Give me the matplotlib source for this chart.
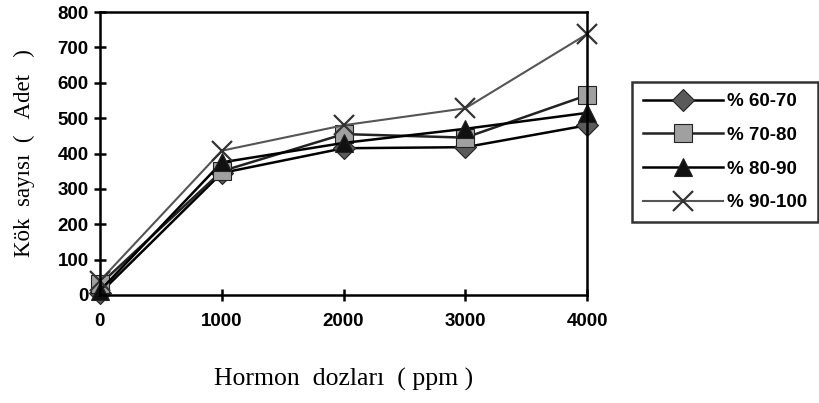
import matplotlib.pyplot as plt
import numpy as np

doses = [0, 1000, 2000, 3000, 4000]
labels = ['% 60-70', '% 70-80', '% 80-90', '% 90-100']
s60_70 = [5, 345, 415, 418, 480]
s70_80 = [30, 350, 455, 445, 565]
s80_90 = [12, 375, 430, 470, 515]
s90_100 = [40, 408, 480, 528, 738]

series = [s60_70, s70_80, s80_90, s90_100]
markers = ['D', 's', '^', 'x']
mfcs = ['#5a5a5a', '#a0a0a0', '#111111', '#777777']
msizes = [11, 13, 13, 15]
lcols = ['black', '#222222', 'black', '#555555']

fig = plt.figure(figsize=(8.19, 4.03), dpi=100)
ax = fig.add_axes([0.122, 0.268, 0.595, 0.702])

for vals, lab, m, fc, ms, lc in zip(series, labels, markers, mfcs, msizes, lcols):
    if m == 'x':
        ax.plot(doses, vals, color=lc, lw=1.5, marker=m, ms=ms, mew=1.6,
                mec='#333333', label=lab, clip_on=False)
    else:
        ax.plot(doses, vals, color=lc, lw=1.8, marker=m, ms=ms, mfc=fc,
                mec='#222222', mew=0.8, label=lab, clip_on=False)

ax.set_xlim(0, 4000)
ax.set_ylim(0, 800)
ax.set_xticks(doses)
ax.set_yticks(np.arange(0, 801, 100))
for sp in ax.spines.values():
    sp.set_linewidth(1.8)
ax.tick_params(direction='inout', length=8, width=1.8, pad=4)
for t in ax.get_xticklabels() + ax.get_yticklabels():
    t.set_fontfamily('Liberation Sans')
    t.set_fontweight('bold')
    t.set_fontsize(13.5)
ax.tick_params(axis='x', pad=9)

ax.set_ylabel('Kök  sayısı  (   Adet   )', family='Liberation Serif', fontsize=16.5, labelpad=16)
ax.set_xlabel('Hormon  dozları  ( ppm )', family='Liberation Serif', fontsize=18.5, labelpad=27)

leg = ax.legend(loc='upper left', bbox_to_anchor=(1.092, 0.753), frameon=True,
                fancybox=False, edgecolor='black', handlelength=4.25,
                handletextpad=0.2, borderpad=0.6, labelspacing=0.88,
                borderaxespad=0,
                prop={'family': 'Liberation Sans', 'weight': 'bold', 'size': 13.5})
leg.get_frame().set_linewidth(1.8)

fig.savefig('out.png', dpi=100)
